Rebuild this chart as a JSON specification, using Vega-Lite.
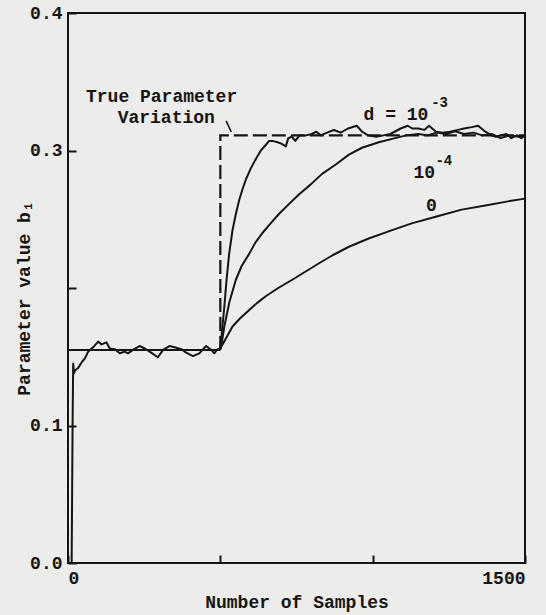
{
  "$schema": "https://vega.github.io/schema/vega-lite/v6.json",
  "width": 457,
  "height": 550,
  "autosize": {"type": "none"},
  "padding": {"left": 68, "top": 13, "right": 21, "bottom": 52},
  "background": "#ececea",
  "config": {
    "view": {"stroke": "#151515", "strokeWidth": 2},
    "font": "Liberation Mono",
    "axis": {
      "labelFont": "Liberation Mono",
      "titleFont": "Liberation Mono",
      "labelFontWeight": "bold",
      "titleFontWeight": "bold",
      "labelColor": "#151515",
      "titleColor": "#151515",
      "tickColor": "#151515",
      "labelFontSize": 18,
      "titleFontSize": 18,
      "grid": false,
      "domain": false,
      "tickWidth": 2
    }
  },
  "datasets": {
    "est": [
      {"d": "e", "s": 0, "b": 0},
      {"d": "e", "s": 12, "b": 0},
      {"d": "e", "s": 15, "b": 0.1},
      {"d": "e", "s": 17, "b": 0.145},
      {"d": "e", "s": 20, "b": 0.138},
      {"d": "e", "s": 23, "b": 0.14},
      {"d": "e", "s": 34, "b": 0.142},
      {"d": "e", "s": 45, "b": 0.146},
      {"d": "e", "s": 56, "b": 0.149},
      {"d": "e", "s": 66, "b": 0.1537},
      {"d": "e", "s": 83, "b": 0.157},
      {"d": "e", "s": 99, "b": 0.161},
      {"d": "e", "s": 110, "b": 0.159},
      {"d": "e", "s": 126, "b": 0.1605},
      {"d": "e", "s": 137, "b": 0.156},
      {"d": "e", "s": 154, "b": 0.1555},
      {"d": "e", "s": 170, "b": 0.1525},
      {"d": "e", "s": 186, "b": 0.1537},
      {"d": "e", "s": 197, "b": 0.1525},
      {"d": "e", "s": 213, "b": 0.155},
      {"d": "e", "s": 235, "b": 0.1578},
      {"d": "e", "s": 252, "b": 0.156},
      {"d": "e", "s": 268, "b": 0.1537},
      {"d": "e", "s": 295, "b": 0.1496},
      {"d": "e", "s": 312, "b": 0.155},
      {"d": "e", "s": 333, "b": 0.1578},
      {"d": "e", "s": 350, "b": 0.1569},
      {"d": "e", "s": 372, "b": 0.1555},
      {"d": "e", "s": 388, "b": 0.153},
      {"d": "e", "s": 410, "b": 0.1505},
      {"d": "e", "s": 431, "b": 0.1525},
      {"d": "e", "s": 453, "b": 0.1578},
      {"d": "e", "s": 470, "b": 0.155},
      {"d": "e", "s": 480, "b": 0.1525},
      {"d": "e", "s": 491, "b": 0.1555},
      {"d": "e", "s": 500, "b": 0.156},

      {"d": "1e-3", "s": 500, "b": 0.156},
      {"d": "1e-3", "s": 506, "b": 0.17},
      {"d": "1e-3", "s": 513, "b": 0.186},
      {"d": "1e-3", "s": 520, "b": 0.205},
      {"d": "1e-3", "s": 529, "b": 0.225},
      {"d": "1e-3", "s": 540, "b": 0.242},
      {"d": "1e-3", "s": 551, "b": 0.254},
      {"d": "1e-3", "s": 562, "b": 0.264},
      {"d": "1e-3", "s": 573, "b": 0.272},
      {"d": "1e-3", "s": 584, "b": 0.279},
      {"d": "1e-3", "s": 600, "b": 0.287},
      {"d": "1e-3", "s": 617, "b": 0.294},
      {"d": "1e-3", "s": 633, "b": 0.3},
      {"d": "1e-3", "s": 649, "b": 0.304},
      {"d": "1e-3", "s": 660, "b": 0.307},
      {"d": "1e-3", "s": 671, "b": 0.307},
      {"d": "1e-3", "s": 688, "b": 0.306},
      {"d": "1e-3", "s": 700, "b": 0.305},
      {"d": "1e-3", "s": 715, "b": 0.303},
      {"d": "1e-3", "s": 723, "b": 0.309},
      {"d": "1e-3", "s": 735, "b": 0.31},
      {"d": "1e-3", "s": 746, "b": 0.307},
      {"d": "1e-3", "s": 760, "b": 0.311},
      {"d": "1e-3", "s": 781, "b": 0.311},
      {"d": "1e-3", "s": 800, "b": 0.312},
      {"d": "1e-3", "s": 815, "b": 0.3137},
      {"d": "1e-3", "s": 830, "b": 0.311},
      {"d": "1e-3", "s": 850, "b": 0.313},
      {"d": "1e-3", "s": 873, "b": 0.3149},
      {"d": "1e-3", "s": 895, "b": 0.313},
      {"d": "1e-3", "s": 919, "b": 0.316},
      {"d": "1e-3", "s": 948, "b": 0.318},
      {"d": "1e-3", "s": 965, "b": 0.3137},
      {"d": "1e-3", "s": 985, "b": 0.311},
      {"d": "1e-3", "s": 1012, "b": 0.31},
      {"d": "1e-3", "s": 1035, "b": 0.311},
      {"d": "1e-3", "s": 1058, "b": 0.312},
      {"d": "1e-3", "s": 1075, "b": 0.314},
      {"d": "1e-3", "s": 1092, "b": 0.316},
      {"d": "1e-3", "s": 1115, "b": 0.318},
      {"d": "1e-3", "s": 1130, "b": 0.316},
      {"d": "1e-3", "s": 1150, "b": 0.316},
      {"d": "1e-3", "s": 1170, "b": 0.315},
      {"d": "1e-3", "s": 1185, "b": 0.318},
      {"d": "1e-3", "s": 1208, "b": 0.3137},
      {"d": "1e-3", "s": 1230, "b": 0.313},
      {"d": "1e-3", "s": 1254, "b": 0.3137},
      {"d": "1e-3", "s": 1280, "b": 0.315},
      {"d": "1e-3", "s": 1300, "b": 0.316},
      {"d": "1e-3", "s": 1325, "b": 0.317},
      {"d": "1e-3", "s": 1346, "b": 0.318},
      {"d": "1e-3", "s": 1370, "b": 0.3137},
      {"d": "1e-3", "s": 1390, "b": 0.311},
      {"d": "1e-3", "s": 1404, "b": 0.31},
      {"d": "1e-3", "s": 1420, "b": 0.311},
      {"d": "1e-3", "s": 1439, "b": 0.312},
      {"d": "1e-3", "s": 1455, "b": 0.309},
      {"d": "1e-3", "s": 1474, "b": 0.311},
      {"d": "1e-3", "s": 1488, "b": 0.309},
      {"d": "1e-3", "s": 1500, "b": 0.311},

      {"d": "1e-4", "s": 500, "b": 0.156},
      {"d": "1e-4", "s": 506, "b": 0.162},
      {"d": "1e-4", "s": 513, "b": 0.172},
      {"d": "1e-4", "s": 530, "b": 0.19},
      {"d": "1e-4", "s": 551, "b": 0.206},
      {"d": "1e-4", "s": 570, "b": 0.216},
      {"d": "1e-4", "s": 595, "b": 0.225},
      {"d": "1e-4", "s": 615, "b": 0.233},
      {"d": "1e-4", "s": 638, "b": 0.24},
      {"d": "1e-4", "s": 665, "b": 0.247},
      {"d": "1e-4", "s": 693, "b": 0.254},
      {"d": "1e-4", "s": 725, "b": 0.261},
      {"d": "1e-4", "s": 758, "b": 0.268},
      {"d": "1e-4", "s": 795, "b": 0.275},
      {"d": "1e-4", "s": 834, "b": 0.283},
      {"d": "1e-4", "s": 880, "b": 0.29},
      {"d": "1e-4", "s": 922, "b": 0.297},
      {"d": "1e-4", "s": 965, "b": 0.302},
      {"d": "1e-4", "s": 1020, "b": 0.306},
      {"d": "1e-4", "s": 1074, "b": 0.309},
      {"d": "1e-4", "s": 1110, "b": 0.311},
      {"d": "1e-4", "s": 1150, "b": 0.312},
      {"d": "1e-4", "s": 1180, "b": 0.311},
      {"d": "1e-4", "s": 1210, "b": 0.313},
      {"d": "1e-4", "s": 1240, "b": 0.312},
      {"d": "1e-4", "s": 1270, "b": 0.314},
      {"d": "1e-4", "s": 1300, "b": 0.312},
      {"d": "1e-4", "s": 1330, "b": 0.313},
      {"d": "1e-4", "s": 1360, "b": 0.311},
      {"d": "1e-4", "s": 1390, "b": 0.312},
      {"d": "1e-4", "s": 1420, "b": 0.309},
      {"d": "1e-4", "s": 1450, "b": 0.311},
      {"d": "1e-4", "s": 1480, "b": 0.31},
      {"d": "1e-4", "s": 1500, "b": 0.311},

      {"d": "0", "s": 500, "b": 0.156},
      {"d": "0", "s": 510, "b": 0.16},
      {"d": "0", "s": 525, "b": 0.166},
      {"d": "0", "s": 540, "b": 0.172},
      {"d": "0", "s": 565, "b": 0.178},
      {"d": "0", "s": 595, "b": 0.184},
      {"d": "0", "s": 620, "b": 0.189},
      {"d": "0", "s": 649, "b": 0.194},
      {"d": "0", "s": 690, "b": 0.2},
      {"d": "0", "s": 736, "b": 0.206},
      {"d": "0", "s": 780, "b": 0.212},
      {"d": "0", "s": 824, "b": 0.218},
      {"d": "0", "s": 870, "b": 0.224},
      {"d": "0", "s": 922, "b": 0.23},
      {"d": "0", "s": 987, "b": 0.236},
      {"d": "0", "s": 1050, "b": 0.241},
      {"d": "0", "s": 1128, "b": 0.247},
      {"d": "0", "s": 1210, "b": 0.252},
      {"d": "0", "s": 1292, "b": 0.257},
      {"d": "0", "s": 1370, "b": 0.26},
      {"d": "0", "s": 1444, "b": 0.263},
      {"d": "0", "s": 1500, "b": 0.265}
    ],
    "truth": [
      {"part": "solid", "i": 0, "s": 0, "b": 0.155},
      {"part": "solid", "i": 1, "s": 500, "b": 0.155},
      {"part": "dash", "i": 0, "s": 500, "b": 0.155},
      {"part": "dash", "i": 1, "s": 500, "b": 0.311},
      {"part": "dash", "i": 2, "s": 1500, "b": 0.311}
    ],
    "arrow": [
      {"s": 519, "b": 0.3215},
      {"s": 536, "b": 0.3135}
    ],
    "notes": [
      {"s": 59, "b": 0.339, "t": "True Parameter"},
      {"s": 163, "b": 0.3236, "t": "Variation"},
      {"s": 970, "b": 0.3258, "t": "d = 10"},
      {"s": 1134, "b": 0.284, "t": "10"},
      {"s": 1175, "b": 0.2596, "t": "0"}
    ],
    "sups": [
      {"s": 1192, "b": 0.3345, "t": "-3"},
      {"s": 1206, "b": 0.2925, "t": "-4"}
    ]
  },
  "encoding": {
    "x": {
      "field": "s",
      "type": "quantitative",
      "scale": {"domain": [0, 1500], "nice": false, "zero": false},
      "axis": {
        "values": [0, 500, 1000, 1500],
        "labelExpr": "datum.value == 0 || datum.value == 1500 ? format(datum.value, 'd') : ''",
        "tickSize": -8,
        "labelPadding": 14,
        "title": "Number of Samples",
        "titleBaseline": "middle",
        "titleY": 39
      }
    },
    "y": {
      "field": "b",
      "type": "quantitative",
      "scale": {"domain": [0, 0.4], "nice": false, "zero": false},
      "axis": {
        "values": [0, 0.1, 0.2, 0.3, 0.4],
        "labelExpr": "datum.value > 0.15 && datum.value < 0.25 ? '' : format(datum.value, '.1f')",
        "tickSize": -8,
        "labelPadding": 14,
        "title": "Parameter value b₁",
        "titleBaseline": "middle",
        "titleAngle": -90,
        "titleX": -44,
        "titleY": 285
      }
    }
  },
  "layer": [
    {
      "data": {"name": "truth"},
      "transform": [{"filter": "datum.part == 'solid'"}],
      "mark": {"type": "line", "color": "#151515", "strokeWidth": 2},
      "encoding": {"order": {"field": "i", "type": "quantitative"}}
    },
    {
      "data": {"name": "truth"},
      "transform": [{"filter": "datum.part == 'dash'"}],
      "mark": {"type": "line", "color": "#151515", "strokeWidth": 2.2, "strokeDash": [14, 5]},
      "encoding": {"order": {"field": "i", "type": "quantitative"}}
    },
    {
      "data": {"name": "est"},
      "mark": {"type": "line", "color": "#151515", "strokeWidth": 2, "strokeJoin": "round"},
      "encoding": {"detail": {"field": "d", "type": "nominal"}}
    },
    {
      "data": {"name": "arrow"},
      "mark": {"type": "line", "color": "#151515", "strokeWidth": 1.5},
      "encoding": {}
    },
    {
      "data": {"name": "notes"},
      "mark": {"type": "text", "align": "left", "baseline": "middle", "font": "Liberation Mono", "fontWeight": "bold", "fontSize": 18, "color": "#151515"},
      "encoding": {"text": {"field": "t"}}
    },
    {
      "data": {"name": "sups"},
      "mark": {"type": "text", "align": "left", "baseline": "middle", "font": "Liberation Mono", "fontWeight": "bold", "fontSize": 14, "color": "#151515"},
      "encoding": {"text": {"field": "t"}}
    }
  ]
}
